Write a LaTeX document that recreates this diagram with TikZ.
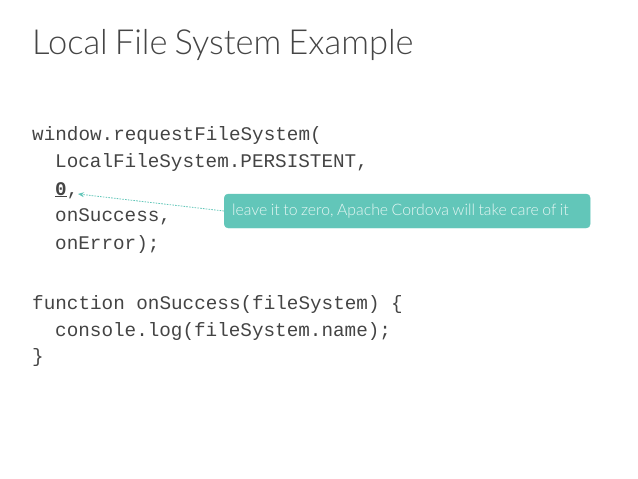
\documentclass[tikz,border=0pt]{standalone}
\usepackage{fontspec}
\setmainfont{Lato}
\newfontfamily\latolight[WordSpace=0.75]{Lato Light}
\newfontfamily\codefont{Liberation Mono}
\newcommand{\mycallfont}{\latolight\fontsize{15.8}{17}\selectfont\spaceskip=3.5pt plus 1pt minus 1pt\relax}
\usetikzlibrary{arrows.meta}
\definecolor{titlegray}{HTML}{454545}
\definecolor{codegray}{HTML}{444444}
\definecolor{teal1}{HTML}{62C6B9}
\definecolor{calltext}{HTML}{E6F7F4}
\tikzset{
  codeline/.style={anchor=base west, inner sep=0pt, font=\codefont\fontsize{19.3}{23}\selectfont, text=codegray},
  titletext/.style={anchor=base west, inner sep=0pt, font=\latolight\fontsize{34.5}{40}\selectfont, text=titlegray},
  callout/.style={rectangle, rounded corners=4pt, fill=teal1, draw=teal1, text=calltext,
    text width=350pt, align=left, inner xsep=8pt, minimum height=34pt, anchor=west},
  pointer/.style={draw=teal1, line width=0.8pt, dash pattern=on 1.6pt off 1.2pt, -{Stealth[length=6pt,width=5pt]}}
}
\begin{document}
\begin{tikzpicture}[x=1pt,y=-1pt]
\useasboundingbox (0,0) rectangle (638,479);
\node[titletext] (title) at (32,54) {Local File System Example};
\node[codeline] (l1) at (32,140) {window.requestFileSystem(};
\node[codeline] (l2) at (55,167.5) {LocalFileSystem.PERSISTENT,};
\node[codeline] (l3) at (55,195) {\underline{\textbf{0}},};
\node[codeline] (l4) at (55,221.5) {onSuccess,};
\node[codeline] (l5) at (55,249) {onError);};
\node[codeline] (l6) at (32,309) {function onSuccess(fileSystem) \{};
\node[codeline] (l7) at (55,336) {console.log(fileSystem.name);};
\node[codeline] (l8) at (32,362) {\}};
\node[callout] (box) at (224,211) {\mycallfont leave it to zero, Apache Cordova will take care of it};
\coordinate (tip) at (78,194);
\draw[pointer] (box.west) -- (tip);
\end{tikzpicture}
\end{document}
